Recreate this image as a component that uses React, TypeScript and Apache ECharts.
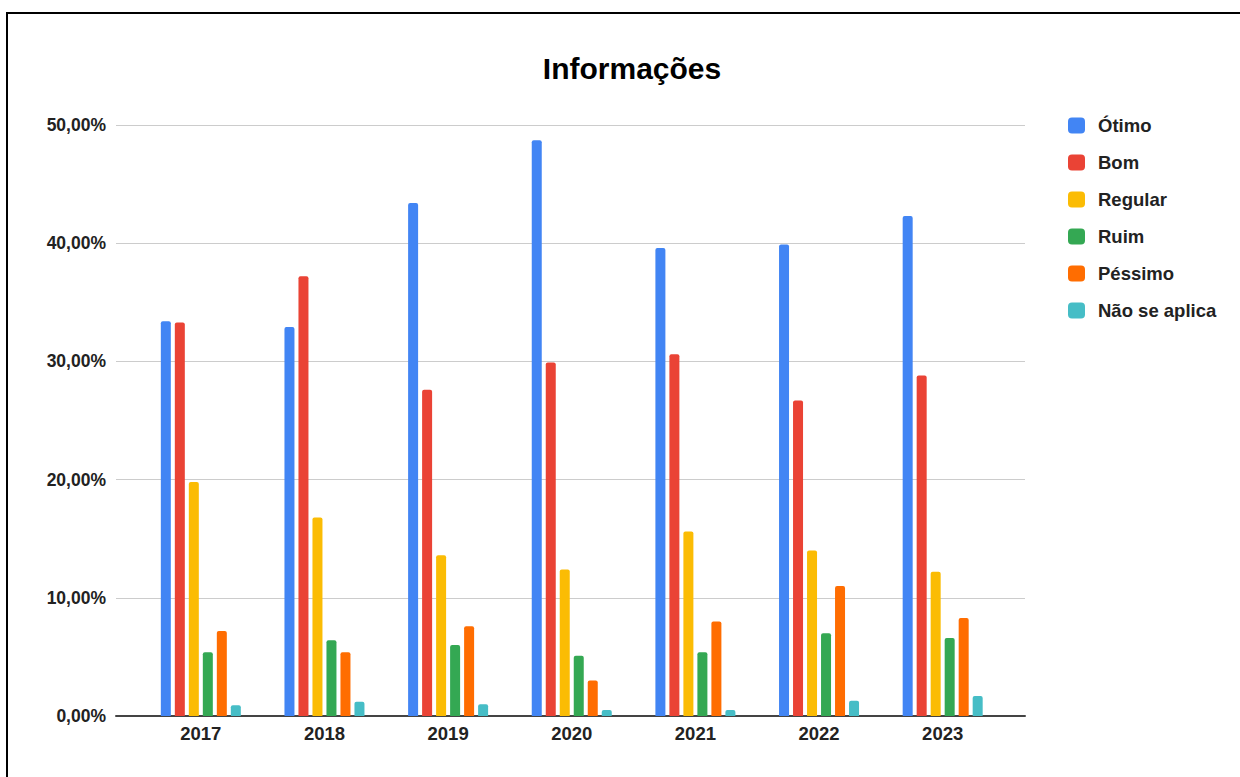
import React, { useEffect, useRef } from "react";
import * as echarts from "echarts";

// Anos avaliados
const years = ["2017", "2018", "2019", "2020", "2021", "2022", "2023"];

// Percentual de respostas por ano (%)
const otimo = [33.4, 32.9, 43.4, 48.7, 39.6, 39.9, 42.3];
const bom = [33.3, 37.2, 27.6, 29.9, 30.6, 26.7, 28.8];
const regular = [19.8, 16.8, 13.6, 12.4, 15.6, 14.0, 12.2];
const ruim = [5.4, 6.4, 6.0, 5.1, 5.4, 7.0, 6.6];
const pessimo = [7.2, 5.4, 7.6, 3.0, 8.0, 11.0, 8.3];
const naoSeAplica = [0.9, 1.2, 1.0, 0.5, 0.5, 1.3, 1.7];

const seriesNames = ["Ótimo", "Bom", "Regular", "Ruim", "Péssimo", "Não se aplica"];
const seriesValues = [otimo, bom, regular, ruim, pessimo, naoSeAplica];
const seriesColors = ["#4285F4", "#EA4335", "#FBBC04", "#34A853", "#FF6D01", "#46BDC6"];

const FONT = '"Liberation Sans", Arial, sans-serif';

const fmtPct = (v: number) => v.toFixed(2).replace(".", ",") + "%";

export default function App() {
  const ref = useRef<HTMLDivElement>(null);

  useEffect(() => {
    if (!ref.current) return;
    const chart = echarts.init(ref.current, undefined, { renderer: "svg" });

    const yCommon = { type: "value" as const, min: 0, max: 50, interval: 10 };

    chart.setOption({
      animation: false,
      backgroundColor: "#ffffff",
      title: {
        text: "Informações",
        left: 627,
        textAlign: "center",
        top: 48,
        textStyle: { fontFamily: FONT, fontSize: 30, fontWeight: "bold", color: "#000" },
      },
      legend: {
        orient: "vertical",
        left: 1063,
        top: 111,
        itemWidth: 17,
        itemHeight: 16,
        itemGap: 18,
        icon: "roundRect",
        data: seriesNames,
        textStyle: {
          fontFamily: FONT,
          fontSize: 18.5,
          fontWeight: "bold",
          color: "#222",
          lineHeight: 16,
          padding: [0, 0, 0, 8],
        },
      },
      grid: [
        { left: 116, right: 215, top: 125, bottom: 61 },
        { left: 139, right: 235.5, top: 125, bottom: 61 },
      ],
      xAxis: [
        {
          gridIndex: 0,
          type: "category",
          data: years,
          axisLine: { lineStyle: { color: "#444", width: 2 } },
          axisTick: { show: false },
          axisLabel: { show: false },
        },
        {
          gridIndex: 1,
          type: "category",
          data: years,
          axisLine: { show: false },
          axisTick: { show: false },
          axisLabel: {
            margin: 8,
            fontFamily: FONT,
            fontSize: 18.5,
            fontWeight: "bold",
            color: "#222",
          },
        },
      ],
      yAxis: [
        {
          ...yCommon,
          gridIndex: 0,
          axisLine: { show: false },
          axisTick: { show: false },
          splitLine: { lineStyle: { color: "#cccccc", width: 1 } },
          axisLabel: {
            margin: 10,
            formatter: (v: number) => fmtPct(v),
            fontFamily: FONT,
            fontSize: 17.5,
            fontWeight: "bold",
            color: "#222",
          },
        },
        {
          ...yCommon,
          gridIndex: 1,
          show: false,
          splitLine: { show: false },
        },
      ],
      series: seriesNames.map((name, i) => ({
        name,
        type: "bar",
        xAxisIndex: 1,
        yAxisIndex: 1,
        data: seriesValues[i],
        barWidth: 10,
        barGap: "40%",
        itemStyle: { color: seriesColors[i], borderRadius: [2, 2, 0, 0] },
      })),
      graphic: [
        { type: "rect", shape: { x: 6, y: 12, width: 1234, height: 2 }, style: { fill: "#000" }, silent: true },
        { type: "rect", shape: { x: 6, y: 12, width: 2, height: 765 }, style: { fill: "#000" }, silent: true },
      ],
    });

    return () => chart.dispose();
  }, []);

  return (
    <div
      ref={ref}
      style={{ position: "fixed", left: 0, top: 0, width: 1240, height: 777 }}
    />
  );
}
